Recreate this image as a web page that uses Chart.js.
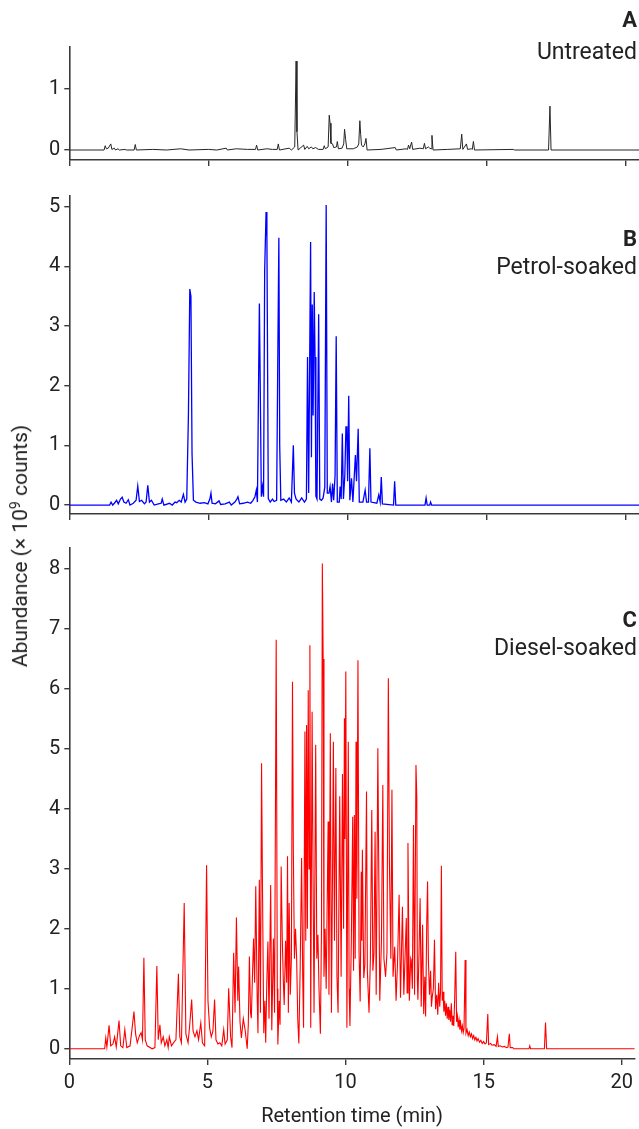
<!DOCTYPE html>
<html>
<head>
<meta charset="utf-8">
<script src="https://cdn.jsdelivr.net/npm/chart.js@4.4.1/dist/chart.umd.min.js"></script>
<style>
html,body{margin:0;padding:0;background:#fff;}
body{width:639px;height:1129px;position:relative;overflow:hidden;font-family:Roboto,"Liberation Sans",sans-serif;color:#222;}
.panel{position:absolute;left:0;width:639px;}
.lbl{position:absolute;right:2px;text-align:right;font-size:23px;line-height:26px;white-space:nowrap;}
.lbl b{font-weight:700;font-size:22px;}
#ytitle{position:absolute;left:20px;top:546px;transform:translate(-50%,-50%) rotate(-90deg);white-space:nowrap;font-size:21px;line-height:24px;}
#ytitle sup{font-size:14px;vertical-align:7px;line-height:0;}
</style>
</head>
<body>
<div class="panel" style="top:0;height:180px"><canvas id="cA"></canvas></div>
<div class="panel" style="top:175px;height:359px"><canvas id="cB"></canvas></div>
<div class="panel" style="top:528px;height:601px"><canvas id="cC"></canvas></div>

<div class="lbl" style="top:7px"><b>A</b></div>
<div class="lbl" style="top:39px">Untreated</div>
<div class="lbl" style="top:226px"><b>B</b></div>
<div class="lbl" style="top:254px">Petrol-soaked</div>
<div class="lbl" style="top:607px"><b>C</b></div>
<div class="lbl" style="top:635px">Diesel-soaked</div>
<div id="ytitle">Abundance (× 10<sup>9</sup> counts)</div>

<script>
// ---------- DATA (retention time in min, abundance in 10^9 counts) ----------
const xTicks = [0, 5, 10, 15, 20];
const xTitle = "Retention time (min)";

const untreatedT = [0,1.25,1.29,1.33,1.40,1.49,1.53,1.62,1.66,1.75,1.80,2.00,2.05,2.33,2.37,2.41,3.00,3.50,4.00,4.30,5.00,5.30,5.64,5.68,6.00,6.40,6.69,6.73,6.77,7.10,7.30,7.47,7.51,7.55,7.90,7.98,8.10,8.15,8.18,8.22,8.42,8.46,8.55,8.60,8.70,8.75,8.85,8.95,9.12,9.16,9.20,9.30,9.34,9.37,9.40,9.46,9.50,9.60,9.63,9.67,9.80,9.86,9.89,9.93,9.97,10.20,10.35,10.40,10.44,10.47,10.50,10.56,10.62,10.66,10.70,11.20,11.71,11.75,12.10,12.15,12.19,12.23,12.30,12.34,12.60,12.72,12.76,12.80,12.90,12.95,13.00,13.03,13.07,13.60,14.05,14.10,14.14,14.27,14.31,14.45,14.48,14.52,14.56,15.95,16.00,17.22,17.27,17.31,20.47];
const untreatedY = [0,0,0.07,0.02,0.03,0.10,0.01,0.03,0.00,0.02,0.00,0.01,0,0.00,0.09,0.00,0.01,0.00,0.02,0.00,0.01,0.00,0.03,0,0.02,0.01,0.01,0.08,0.00,0.02,0.01,0.01,0.10,0.00,0.03,0.00,0.05,1.46,0.30,0.00,0.08,0.01,0.06,0.02,0.05,0.02,0.04,0.01,0.01,0.07,0.02,0.05,0.57,0.44,0.11,0.10,0.04,0.05,0.14,0.02,0.03,0.10,0.34,0.17,0.02,0.02,0.05,0.10,0.48,0.25,0.08,0.05,0.10,0.19,0.00,0.01,0.04,0,0.02,0.01,0.08,0.02,0.13,0.01,0.03,0.02,0.11,0.02,0.05,0.03,0.02,0.24,0.00,0.01,0.02,0.26,0.01,0.10,0.01,0.02,0.01,0.14,0.00,0.01,0,0,0.72,0.00,0];

const petrolT = [0,1.45,1.50,1.56,1.62,1.70,1.76,1.84,1.90,1.96,2.04,2.12,2.18,2.30,2.40,2.46,2.52,2.60,2.70,2.76,2.82,2.88,2.95,3.05,3.20,3.30,3.34,3.40,3.60,3.70,3.80,3.86,3.95,4.02,4.10,4.16,4.22,4.28,4.33,4.37,4.41,4.46,4.55,4.70,4.85,4.98,5.05,5.09,5.13,5.25,5.38,5.44,5.60,5.75,5.82,5.95,6.02,6.06,6.12,6.25,6.40,6.52,6.60,6.67,6.72,6.76,6.80,6.83,6.86,6.90,6.94,6.98,7.02,7.07,7.10,7.15,7.22,7.30,7.36,7.45,7.49,7.53,7.56,7.60,7.70,7.80,7.90,7.98,8.05,8.09,8.15,8.25,8.35,8.45,8.52,8.56,8.60,8.67,8.70,8.73,8.76,8.80,8.83,8.86,8.90,8.96,9.00,9.06,9.12,9.18,9.23,9.27,9.33,9.37,9.42,9.46,9.50,9.55,9.59,9.63,9.70,9.73,9.77,9.81,9.85,9.90,9.94,9.97,10.00,10.04,10.08,10.14,10.19,10.28,10.32,10.38,10.42,10.55,10.63,10.68,10.75,10.80,10.84,11.05,11.12,11.17,11.21,11.25,11.65,11.69,11.73,12.78,12.82,12.86,12.95,12.98,13.02,20.47];
const petrolY = [0,0,0.05,0.00,0.03,0.08,0.02,0.10,0.13,0.05,0.03,0.09,0.00,0.03,0.08,0.32,0.06,0.08,0.02,0.05,0.33,0.05,0.08,0.00,0.02,0.03,0.10,0.00,0.03,0.00,0.05,0.04,0.08,0.05,0.18,0.05,0.10,1.50,3.62,3.50,0.86,0.08,0.05,0.03,0.04,0.02,0.10,0.20,0.03,0.02,0.07,0.01,0.02,0.05,0.00,0.05,0.10,0.14,0.02,0.03,0.05,0.03,0.08,0.14,0.25,0.05,2.00,3.38,2.04,0.14,0.31,0.14,3.94,4.91,4.50,0.11,0.05,0.10,0.06,0.08,2.37,4.48,1.00,0.08,0.10,0.05,0.12,0.05,1.00,0.20,0.10,0.05,0.12,0.05,0.10,2.48,0.20,4.41,0.80,3.36,1.50,3.57,2.48,0.15,0.10,3.20,0.10,0.08,0.12,0.30,5.03,0.20,0.20,0.31,0.05,0.36,0.08,0.50,2.83,0.05,0.05,0.31,0.10,1.20,0.10,0.50,1.31,1.31,0.40,1.83,0.08,0.45,0.05,0.84,0.40,1.28,0.05,0.05,0.25,0.05,0.05,0.95,0.05,0.03,0.17,0.05,0.47,0.02,0.00,0.40,0.00,0,0.12,0,0,0.05,0,0];

const dieselT = [0,1.28,1.32,1.36,1.44,1.50,1.58,1.64,1.70,1.80,1.86,1.94,2.01,2.08,2.20,2.30,2.34,2.40,2.46,2.54,2.60,2.65,2.70,2.75,2.82,3.00,3.10,3.17,3.22,3.28,3.33,3.40,3.46,3.53,3.58,3.62,3.70,3.80,3.86,3.95,4.00,4.06,4.16,4.22,4.30,4.36,4.43,4.48,4.55,4.62,4.68,4.76,4.82,4.90,4.97,5.02,5.08,5.14,5.20,5.26,5.31,5.38,5.45,5.52,5.59,5.64,5.72,5.77,5.84,5.89,5.95,6.00,6.05,6.10,6.13,6.18,6.23,6.30,6.37,6.44,6.48,6.52,6.56,6.59,6.63,6.67,6.71,6.75,6.80,6.83,6.88,6.92,6.96,6.99,7.04,7.08,7.11,7.15,7.19,7.23,7.29,7.33,7.39,7.43,7.49,7.53,7.55,7.60,7.63,7.67,7.71,7.75,7.78,7.83,7.87,7.90,7.93,7.96,8.00,8.04,8.08,8.11,8.15,8.19,8.23,8.27,8.31,8.36,8.41,8.45,8.48,8.53,8.56,8.59,8.62,8.65,8.68,8.71,8.74,8.79,8.83,8.86,8.92,8.96,9.00,9.04,9.09,9.13,9.16,9.19,9.22,9.26,9.30,9.37,9.40,9.45,9.49,9.53,9.56,9.60,9.65,9.69,9.73,9.79,9.84,9.89,9.93,9.96,9.98,10.01,10.05,10.10,10.13,10.16,10.21,10.26,10.29,10.32,10.35,10.38,10.41,10.45,10.49,10.53,10.57,10.59,10.61,10.66,10.70,10.76,10.79,10.85,10.90,10.95,10.99,11.03,11.07,11.11,11.17,11.20,11.24,11.30,11.35,11.39,11.45,11.50,11.55,11.59,11.64,11.68,11.72,11.78,11.83,11.88,11.94,11.99,12.06,12.11,12.16,12.20,12.23,12.26,12.31,12.36,12.38,12.42,12.46,12.50,12.55,12.58,12.60,12.62,12.66,12.70,12.74,12.79,12.83,12.87,12.90,12.94,12.97,13.00,13.04,13.08,13.11,13.14,13.18,13.22,13.26,13.30,13.34,13.37,13.41,13.44,13.47,
  13.50,13.53,13.56,13.59,13.62,13.65,13.68,13.71,13.74,13.77,13.80,13.83,13.86,13.89,13.92,13.95,13.99,14.02,14.05,14.08,14.11,14.14,14.17,14.20,14.23,14.26,14.29,14.33,14.36,14.40,14.44,14.48,14.52,14.56,14.60,14.64,14.68,14.72,14.76,14.80,14.85,14.90,14.95,15.00,15.05,15.10,15.15,15.18,15.25,15.30,15.38,15.45,15.50,15.53,15.60,15.68,15.75,15.82,15.88,15.93,15.96,16.05,16.10,16.64,16.67,16.70,17.20,17.24,17.28,20.47];
const dieselY = [0,0,0.18,0.03,0.39,0.05,0.08,0.20,0.03,0.47,0.05,0.02,0.32,0.02,0.05,0.45,0.62,0.25,0.10,0.22,0.27,0.15,1.52,0.15,0.05,0.00,0.02,1.38,0.15,0.40,0.10,0.20,0.05,0.15,0.02,0.20,0.05,0.12,0.15,1.25,0.20,0.10,2.43,0.25,0.10,0.40,0.82,0.30,0.20,0.30,0.15,0.43,0.10,0.05,3.06,0.80,0.35,0.20,0.30,0.82,0.15,0.08,0.10,0.05,0.32,0.08,0.15,1.01,0.20,0.02,1.60,0.60,2.19,0.80,1.37,0.45,0.18,0.50,0.30,0.00,0.40,1.54,0.60,0.51,1.20,1.84,1.10,2.71,0.90,0.26,2.82,0.60,4.76,2.88,0.26,0.80,0.10,1.10,1.79,0.50,2.73,0.31,1.84,0.60,6.82,1.00,0.07,0.80,0.40,3.04,1.84,1.10,0.73,1.80,1.10,3.21,0.60,2.43,0.90,1.50,6.12,3.34,1.50,2.00,1.51,0.50,0.09,1.40,3.18,1.20,0.35,5.29,1.80,5.40,2.00,5.98,3.00,6.73,0.35,5.62,2.50,0.60,5.07,1.50,1.90,1.00,0.25,2.00,8.09,6.50,1.20,2.00,1.00,3.79,0.90,5.26,0.60,3.00,5.12,1.80,4.68,1.20,0.60,4.21,1.20,4.58,2.00,5.51,3.50,6.29,0.35,5.12,1.00,0.38,1.80,3.87,1.30,3.90,1.50,5.12,2.50,6.48,1.60,0.79,2.95,1.80,3.32,1.18,1.40,4.29,1.30,0.60,1.50,3.98,1.30,1.60,3.62,0.90,5.01,3.17,0.80,1.80,4.40,1.50,1.20,1.60,6.18,3.07,1.50,4.32,1.20,1.70,0.80,1.40,2.57,0.85,2.37,0.90,1.60,2.18,0.93,3.43,0.80,1.51,1.48,1.00,3.73,0.90,4.73,4.20,1.15,0.82,1.60,2.51,0.70,2.07,0.58,1.20,0.54,2.10,2.79,1.48,0.90,1.30,0.70,0.87,1.00,1.82,0.66,0.90,0.57,1.10,0.70,0.95,3.05,
  0.80,0.95,0.62,0.80,0.55,0.76,0.50,0.70,0.48,0.65,0.45,0.76,0.40,0.55,0.38,0.82,1.62,0.45,0.55,0.36,0.48,0.32,0.42,0.30,0.38,0.27,0.34,1.48,0.26,0.32,0.22,0.28,0.20,0.25,0.17,0.22,0.15,0.19,0.13,0.17,0.11,0.14,0.09,0.12,0.08,0.10,0.58,0.07,0.09,0.06,0.07,0.04,0.20,0.04,0.05,0.03,0.04,0.02,0.03,0.25,0.02,0.02,0.00,0.00,0.05,0,0,0.44,0,0];

// ---------- CHARTS ----------
const FONT = "Roboto, 'Liberation Sans', sans-serif";
const AXIS = '#3a3a3a';
const LEFT = 69.3;

function pts(T, Y) { return T.map((t, i) => ({ x: t, y: Y[i] })); }

function makePanel(id, T, Y, color, lw, yMin, yMax, padTop, xH, showX) {
  const ctx = document.getElementById(id);
  return new Chart(ctx, {
    type: 'line',
    data: { datasets: [{ data: pts(T, Y), borderColor: color, borderWidth: lw, pointRadius: 0, tension: 0, fill: false }] },
    options: {
      responsive: true, maintainAspectRatio: false, animation: false, devicePixelRatio: 1,
      layout: { padding: { top: padTop, left: 0, right: 0, bottom: 0 } },
      plugins: { legend: { display: false }, tooltip: { enabled: false } },
      events: [],
      scales: {
        x: {
          type: 'linear', min: 0, max: 20.47,
          afterBuildTicks: s => { s.ticks = xTicks.map(v => ({ value: v })); },
          afterFit: s => { s.height = xH; },
          border: { display: true, color: AXIS, width: 1.6 },
          grid: { display: true, drawOnChartArea: false, drawTicks: true, tickLength: 6, color: AXIS, lineWidth: 1.4 },
          ticks: { display: showX, padding: 6, color: '#222', font: { family: FONT, size: 20 }, maxRotation: 0 },
          title: { display: showX, text: xTitle, color: '#222', font: { family: FONT, size: 20 }, padding: { top: 0, bottom: 0 } }
        },
        y: {
          min: yMin, max: yMax,
          afterBuildTicks: s => { const a = []; for (let v = 0; v <= Math.floor(yMax); v++) a.push({ value: v }); s.ticks = a; },
          afterFit: s => { s.width = LEFT; },
          border: { display: true, color: AXIS, width: 1.6 },
          grid: { display: true, drawOnChartArea: false, drawTicks: true, tickLength: 5, color: AXIS, lineWidth: 1.4 },
          ticks: { padding: 4, color: '#222', font: { family: FONT, size: 20 } }
        }
      }
    }
  });
}

makePanel('cA', untreatedT, untreatedY, '#262626', 1.0, -0.164, 1.69, 47, 20, false);
makePanel('cB', petrolT, petrolY, '#0000ff', 1.3, -0.15, 5.18, 21, 20, false);
makePanel('cC', dieselT, dieselY, '#ff0000', 1.1, -0.17, 8.35, 20, 70, true);
</script>
</body>
</html>
